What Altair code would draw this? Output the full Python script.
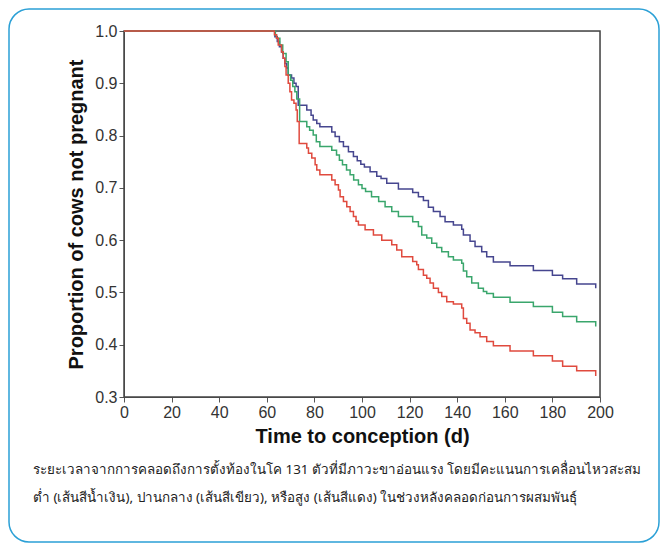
import altair as alt
import pandas as pd

# Kaplan-Meier step curves
blue_days = [0, 63.4, 64.4, 65.3, 66.2, 66.9, 67.6, 68.4, 69.0, 70.4, 71.4, 72.3, 73.2,
             76.8, 78.6, 79.5, 81.0, 82.3, 87.3, 88.7, 90.5, 92.2, 94.3, 96.4, 98.0, 99.5,
             101.0, 103.4, 106.2, 108.0, 110.4, 115.3, 121.3, 123.7, 125.8, 127.9, 130.0,
             132.8, 134.9, 138.4, 141.9, 142.6, 145.4, 147.5, 150.3, 152.4, 155.2, 162.2,
             172.0, 180.0, 184.3, 190.2, 198.2]
blue_vals = [1.0, 0.989, 0.980, 0.970, 0.960, 0.948, 0.938, 0.929, 0.916, 0.910, 0.900, 0.894, 0.858,
             0.849, 0.839, 0.830, 0.823, 0.817, 0.807, 0.798, 0.788, 0.779, 0.769, 0.760, 0.752, 0.745,
             0.740, 0.731, 0.722, 0.718, 0.709, 0.698, 0.691, 0.683, 0.676, 0.663, 0.655,
             0.645, 0.635, 0.629, 0.621, 0.610, 0.598, 0.588, 0.578, 0.568, 0.558, 0.551,
             0.542, 0.533, 0.526, 0.516, 0.508]

green_days = [0, 63.6, 64.1, 65.5, 66.7, 68.1, 69.0, 70.0, 70.9, 71.8, 72.6, 73.8,
              76.8, 78.0, 79.5, 80.8, 82.3, 87.3, 89.3, 90.5, 91.8, 93.5, 95.0, 96.5, 98.5,
              100.0, 101.5, 104.0, 107.0, 109.7, 112.5, 115.3, 121.3, 123.7, 125.1, 127.2,
              129.3, 131.4, 133.5, 136.3, 138.4, 141.9, 142.6, 144.0, 146.1, 148.9, 151.0,
              152.4, 155.2, 162.2, 172.0, 180.0, 184.3, 190.2, 198.2]
green_vals = [1.0, 0.992, 0.986, 0.973, 0.957, 0.941, 0.916, 0.906, 0.894, 0.884, 0.870, 0.827,
              0.817, 0.810, 0.801, 0.788, 0.779, 0.772, 0.763, 0.753, 0.744, 0.734, 0.725, 0.715, 0.706,
              0.699, 0.693, 0.683, 0.674, 0.664, 0.655, 0.645, 0.635, 0.626, 0.610, 0.604,
              0.594, 0.586, 0.578, 0.568, 0.562, 0.556, 0.541, 0.530, 0.518, 0.508, 0.502,
              0.498, 0.491, 0.481, 0.473, 0.462, 0.454, 0.444, 0.435]

red_days = [0, 63.2, 64.1, 64.8, 66.2, 66.9, 67.6, 68.1, 69.0, 69.7, 70.4, 71.4, 72.3, 72.8, 73.6,
            76.8, 77.5, 78.9, 80.3, 81.0, 82.3, 87.3, 88.7, 90.1, 90.8, 92.2, 93.6, 95.0, 96.4,
            97.5, 98.5, 101.3, 104.8, 108.3, 112.5, 114.6, 116.7, 121.3, 123.0, 123.7, 125.8,
            127.2, 128.6, 130.0, 132.1, 133.5, 135.6, 138.4, 141.9, 142.6, 144.0, 145.4, 147.5,
            149.6, 152.4, 155.2, 162.2, 172.0, 180.0, 184.3, 190.2, 198.2]
red_vals = [1.0, 0.993, 0.986, 0.973, 0.960, 0.948, 0.932, 0.916, 0.900, 0.884, 0.868, 0.862, 0.849, 0.827, 0.785,
            0.776, 0.766, 0.757, 0.744, 0.734, 0.725, 0.715, 0.706, 0.696, 0.683, 0.674, 0.664, 0.655, 0.645,
            0.636, 0.629, 0.620, 0.610, 0.600, 0.591, 0.581, 0.568, 0.559, 0.553, 0.544, 0.533,
            0.527, 0.518, 0.508, 0.500, 0.492, 0.482, 0.478, 0.470, 0.450, 0.441, 0.428, 0.423,
            0.415, 0.406, 0.398, 0.388, 0.379, 0.369, 0.359, 0.350, 0.340]

x_ticks = [0, 20, 40, 60, 80, 100, 120, 140, 160, 180, 200]
y_ticks = [0.3, 0.4, 0.5, 0.6, 0.7, 0.8, 0.9, 1.0]

x_title = "Time to conception (d)"
y_title = "Proportion of cows not pregnant"
caption_1 = "ระยะเวลาจากการคลอดถึงการตั้งท้องในโค 131 ตัวที่มีภาวะขาอ่อนแรง โดยมีคะแนนการเคลื่อนไหวสะสม"
caption_2 = "ต่ำ (เส้นสีน้ำเงิน), ปานกลาง (เส้นสีเขียว), หรือสูง (เส้นสีแดง) ในช่วงหลังคลอดก่อนการผสมพันธุ์"

W, H = 476, 366
FONT = "Liberation Sans"

x_enc = alt.X("day:Q",
              scale=alt.Scale(domain=[0, 200], nice=False),
              axis=alt.Axis(values=x_ticks, title=x_title, grid=False,
                            labelFontSize=16, labelColor="#333", labelFont=FONT,
                            titleFontSize=20, titleFont=FONT, titleFontWeight="bold",
                            titleColor="#111", titlePadding=6, labelPadding=2,
                            tickSize=5, domainColor="#555", tickColor="#555",
                            labelFlush=False))
y_enc = alt.Y("val:Q",
              scale=alt.Scale(domain=[0.3, 1.0], nice=False, zero=False),
              axis=alt.Axis(values=y_ticks, format=".1f", title=y_title, grid=False,
                            labelFontSize=16, labelColor="#333", labelFont=FONT,
                            titleFontSize=20, titleFont=FONT, titleFontWeight="bold",
                            titleColor="#111", titlePadding=8, labelPadding=2,
                            tickSize=5, domainColor="#555", tickColor="#555",
                            labelFlush=False))


def curve(days, vals, color):
    df = pd.DataFrame({"day": days, "val": vals})
    return alt.Chart(df).mark_line(interpolate="step-after", color=color,
                                   strokeWidth=1.5).encode(x=x_enc, y=y_enc)


one = pd.DataFrame({"k": [0]})

frame = alt.Chart(one).mark_rect(fill="white", fillOpacity=0, stroke="#444",
                                 strokeWidth=1.5).encode(
    x=alt.value(0), x2=alt.value(W), y=alt.value(0), y2=alt.value(H))

blue = curve(blue_days, blue_vals, "#46468f")
green = curve(green_days, green_vals, "#3aa66c")
red = curve(red_days, red_vals, "#e04a3e")

border = alt.Chart(one).mark_rect(cornerRadius=20, fill="white", fillOpacity=0,
                                  stroke="#2ba0d6", strokeWidth=1.5).encode(
    x=alt.value(-115), x2=alt.value(535), y=alt.value(-22), y2=alt.value(511))

cap1 = alt.Chart(one).mark_text(align="left", baseline="middle", fontSize=13.4,
                                color="#222", font="Noto Sans").encode(
    x=alt.value(-91), y=alt.value(439), text=alt.value(caption_1))
cap2 = alt.Chart(one).mark_text(align="left", baseline="middle", fontSize=13.4,
                                color="#222", font="Noto Sans").encode(
    x=alt.value(-91), y=alt.value(467), text=alt.value(caption_2))

chart = alt.layer(frame, blue, green, red, border, cap1, cap2).properties(
    width=W, height=H,
    autosize=alt.AutoSizeParams(type="none"),
    padding={"left": 116, "top": 23, "right": 60, "bottom": 146},
).configure_view(stroke=None).configure(background="white")

chart.save("out.html", embed_options={"renderer": "svg", "actions": False})
